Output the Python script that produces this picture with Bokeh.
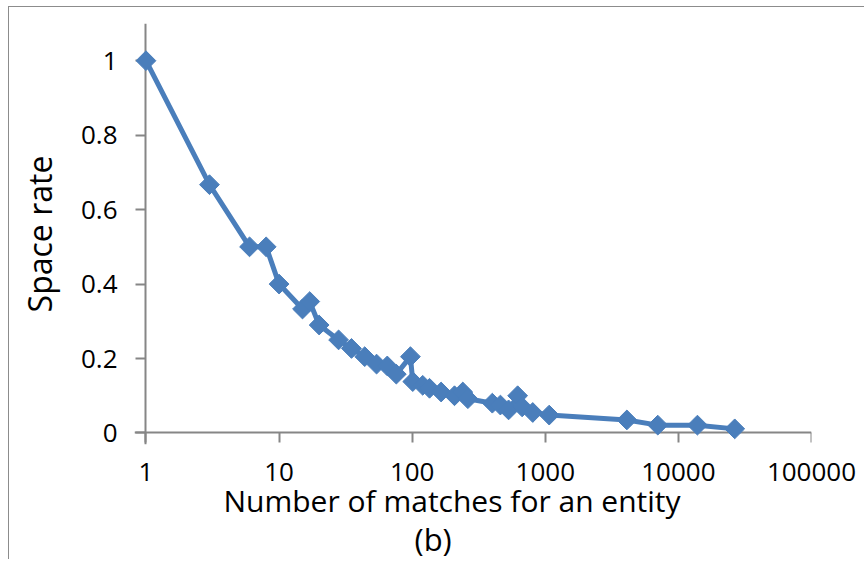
from bokeh.plotting import figure
from bokeh.models import (Range1d, FixedTicker, CustomJSTickFormatter, LogAxis,
                          LinearAxis, Title)
from bokeh.embed import file_html
from bokeh.resources import INLINE
import math

# ---- data ----
matches = [1, 3, 6, 8, 10, 15, 17, 20, 28, 35, 44, 54, 65, 76, 97, 101, 120, 135,
           165, 208, 240, 262, 400, 460, 530, 620, 670, 805, 1070, 4100, 7000, 13900, 26500]
space_rate = [1.0, 0.667, 0.5, 0.5, 0.4, 0.333, 0.353, 0.29, 0.25, 0.227, 0.205, 0.185,
              0.18, 0.158, 0.205, 0.138, 0.128, 0.12, 0.11, 0.1, 0.11, 0.092, 0.08,
              0.075, 0.062, 0.1, 0.07, 0.055, 0.048, 0.035, 0.021, 0.021, 0.011]
x_ticks = [1, 10, 100, 1000, 10000, 100000]
y_ticks = [0, 0.2, 0.4, 0.6, 0.8, 1.0]
x_title = "Number of matches  for an entity"
y_title = "Space rate"
caption = "(b)"

BLUE = "#4A7EBB"
AXIS = "#868686"
FONT = "Open Sans"

p = figure(width=856, height=553, x_axis_type="log",
           x_range=Range1d(0.82, 100000), y_range=Range1d(-0.031, 1.1),
           output_backend="svg", toolbar_location=None,
           min_border_left=125, min_border_right=54,
           min_border_top=16, min_border_bottom=116)
p.outline_line_color = None
p.grid.visible = False
p.background_fill_color = "white"
p.border_fill_color = "white"
p.styles = {"margin-left": "8px", "margin-top": "6px",
            "border-top": "1.5px solid #8c8c8c", "border-left": "1.5px solid #8c8c8c"}

fmt = CustomJSTickFormatter(code="return String(tick)")
blank = CustomJSTickFormatter(code="return ''")

# label-only axes at the frame edges
xl = p.xaxis[0]
yl = p.yaxis[0]
xl.ticker = FixedTicker(ticks=x_ticks)
yl.ticker = FixedTicker(ticks=y_ticks)
for ax in (xl, yl):
    ax.formatter = fmt
    ax.axis_line_color = None
    ax.major_tick_line_color = None
    ax.minor_tick_line_color = None
    ax.major_tick_in = 0
    ax.major_tick_out = 0
    ax.major_label_text_font = FONT
    ax.major_label_text_font_size = "26px"
    ax.major_label_text_color = "black"
xl.major_label_standoff = 18
yl.major_label_standoff = 17
yl.axis_label = y_title
yl.axis_label_text_font = FONT
yl.axis_label_text_font_size = "32px"
yl.axis_label_text_font_style = "normal"
yl.axis_label_text_color = "black"
yl.axis_label_standoff = 17

# titles below the x axis
p.add_layout(Title(text=x_title, align="left", offset=89, text_font=FONT,
                   text_font_size="30px", text_font_style="normal",
                   text_color="black", standoff=-12), "below")
p.add_layout(Title(text=caption, align="left", offset=280, text_font=FONT,
                   text_font_size="31px", text_font_style="normal",
                   text_color="black", standoff=2), "below")

# axis lines + ticks drawn at x = 1 and y = 0 (panels placed on the roomy sides)
xf = LogAxis(fixed_location=0, ticker=FixedTicker(ticks=x_ticks), formatter=blank)
yf = LinearAxis(fixed_location=1, ticker=FixedTicker(ticks=y_ticks), formatter=blank)
for ax in (xf, yf):
    ax.axis_line_color = AXIS
    ax.axis_line_width = 2
    ax.major_tick_line_color = AXIS
    ax.major_tick_line_width = 2
    ax.major_tick_in = 10
    ax.major_tick_out = 0
    ax.minor_tick_line_color = None
    ax.major_label_standoff = 0
    ax.major_label_text_font_size = "1px"
p.add_layout(xf, "above")
p.add_layout(yf, "right")

p.line(matches, space_rate, line_color=BLUE, line_width=5, level="overlay")
p.scatter(matches, space_rate, marker="square", angle=math.pi / 4, size=14,
          fill_color=BLUE, line_color=BLUE, level="overlay")

open("out.html", "w").write(file_html(p, INLINE))
